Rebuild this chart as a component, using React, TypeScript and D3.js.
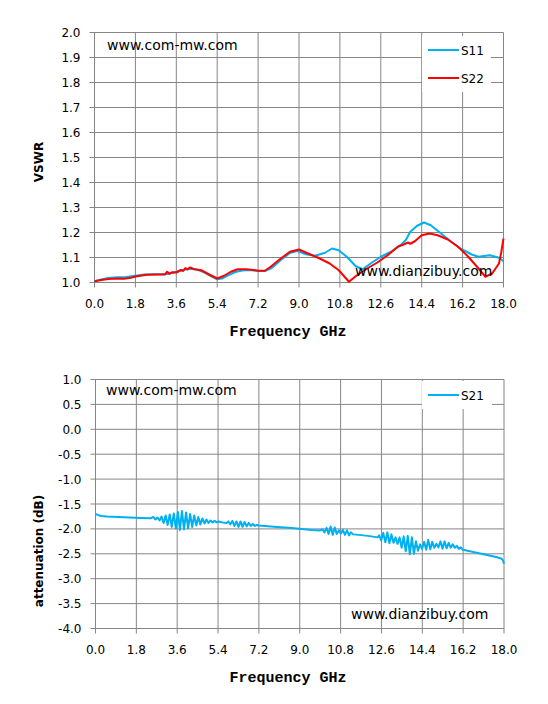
import React from 'react';
import * as d3 from 'd3';

// x axis ticks (GHz), shared by both charts
const freqTicks = [0, 1.8, 3.6, 5.4, 7.2, 9.0, 10.8, 12.6, 14.4, 16.2, 18.0];
const vswrTicks = [1.0, 1.1, 1.2, 1.3, 1.4, 1.5, 1.6, 1.7, 1.8, 1.9, 2.0];
const attTicks = [1.0, 0.5, 0.0, -0.5, -1.0, -1.5, -2.0, -2.5, -3.0, -3.5, -4.0];

// [GHz, VSWR]
const s11: [number, number][] = [
  [0.0, 1.005], [0.3, 1.012], [0.6, 1.018], [1.0, 1.021], [1.4, 1.022], [1.8, 1.027],
  [2.2, 1.032], [2.6, 1.033], [3.0, 1.033], [3.3, 1.035], [3.6, 1.043], [3.9, 1.05],
  [4.2, 1.055], [4.5, 1.052], [4.8, 1.042], [5.1, 1.027], [5.4, 1.013], [5.6, 1.016],
  [5.9, 1.03], [6.2, 1.042], [6.5, 1.048], [6.8, 1.05], [7.2, 1.046], [7.5, 1.046],
  [7.8, 1.058], [8.2, 1.09], [8.6, 1.118], [8.9, 1.126], [9.0, 1.124], [9.3, 1.113],
  [9.7, 1.107], [10.15, 1.119], [10.45, 1.136], [10.75, 1.129], [11.1, 1.103], [11.5, 1.065],
  [11.8, 1.053], [12.15, 1.076], [12.6, 1.103], [13.05, 1.123], [13.5, 1.152], [13.7, 1.17],
  [13.9, 1.203], [14.2, 1.227], [14.5, 1.24], [14.8, 1.229], [15.25, 1.196], [15.7, 1.163],
  [16.1, 1.136], [16.6, 1.112], [16.9, 1.103], [17.4, 1.109], [17.8, 1.099], [18.0, 1.085],
];

const s22: [number, number][] = [
  [0.0, 1.005], [0.3, 1.01], [0.6, 1.014], [1.0, 1.016], [1.3, 1.015], [1.6, 1.019],
  [1.8, 1.024], [2.3, 1.031], [2.8, 1.032], [3.1, 1.032], [3.2, 1.043], [3.3, 1.035],
  [3.4, 1.041], [3.6, 1.04], [3.8, 1.05], [3.9, 1.046], [4.0, 1.058], [4.1, 1.052],
  [4.2, 1.06], [4.4, 1.053], [4.7, 1.049], [5.05, 1.032], [5.4, 1.016], [5.7, 1.027],
  [6.0, 1.043], [6.3, 1.053], [6.7, 1.053], [7.0, 1.05], [7.2, 1.047], [7.5, 1.047],
  [7.75, 1.063], [8.2, 1.096], [8.6, 1.123], [9.0, 1.132], [9.4, 1.116], [9.85, 1.099],
  [10.35, 1.076], [10.75, 1.049], [11.2, 1.003], [11.55, 1.029], [12.0, 1.056], [12.45, 1.08],
  [12.9, 1.109], [13.35, 1.143], [13.6, 1.152], [13.8, 1.16], [13.9, 1.155], [14.1, 1.165],
  [14.4, 1.189], [14.75, 1.196], [15.1, 1.189], [15.55, 1.172], [16.0, 1.143], [16.45, 1.103],
  [16.9, 1.056], [17.2, 1.023], [17.5, 1.036], [17.8, 1.076], [17.9, 1.12], [18.0, 1.176],
];

// [GHz, dB]
const s21: [number, number][] = [
  [0.0, -1.70], [0.1, -1.72], [0.25, -1.74], [0.5, -1.75], [1.0, -1.76], [1.5, -1.77],
  [2.0, -1.78], [2.45, -1.785],
  [2.55, -1.76], [2.64, -1.81], [2.73, -1.77], [2.82, -1.83], [2.91, -1.75], [3.00, -1.88],
  [3.09, -1.73], [3.18, -1.92], [3.27, -1.71], [3.36, -1.96], [3.45, -1.69], [3.54, -1.99],
  [3.63, -1.66], [3.72, -2.02], [3.81, -1.64], [3.90, -2.01], [3.99, -1.67], [4.08, -1.99],
  [4.17, -1.70], [4.26, -1.96], [4.35, -1.73], [4.44, -1.93], [4.53, -1.76], [4.62, -1.91],
  [4.71, -1.79], [4.80, -1.89], [4.89, -1.81], [4.98, -1.88], [5.07, -1.83], [5.16, -1.87],
  [5.25, -1.84], [5.34, -1.87], [5.42, -1.85],
  [5.6, -1.87], [5.78, -1.88],
  [5.85, -1.85], [5.94, -1.91], [6.03, -1.84], [6.12, -1.94], [6.21, -1.85], [6.30, -1.96],
  [6.39, -1.85], [6.48, -1.96], [6.57, -1.86], [6.66, -1.95], [6.75, -1.88], [6.84, -1.94],
  [6.93, -1.90], [7.02, -1.94], [7.11, -1.92],
  [7.2, -1.93], [7.6, -1.945], [8.0, -1.96], [8.5, -1.975], [9.0, -1.995], [9.5, -2.02],
  [9.9, -2.03],
  [10.00, -2.01], [10.09, -2.07], [10.18, -1.98], [10.27, -2.10], [10.36, -1.95], [10.45, -2.12],
  [10.54, -1.97], [10.63, -2.10], [10.72, -2.03], [10.81, -2.09], [10.90, -2.02], [10.99, -2.12],
  [11.08, -2.03], [11.17, -2.13], [11.26, -2.07], [11.35, -2.11],
  [11.6, -2.12], [12.0, -2.14], [12.3, -2.16], [12.43, -2.17],
  [12.50, -2.13], [12.59, -2.23], [12.68, -2.08], [12.77, -2.27], [12.86, -2.07], [12.95, -2.29],
  [13.04, -2.11], [13.13, -2.28], [13.22, -2.17], [13.31, -2.30],
  [13.40, -2.17], [13.49, -2.38], [13.58, -2.15], [13.67, -2.45], [13.76, -2.14], [13.85, -2.51],
  [13.94, -2.17], [14.03, -2.50], [14.12, -2.25], [14.21, -2.44], [14.30, -2.31], [14.39, -2.40],
  [14.48, -2.26], [14.57, -2.42], [14.66, -2.22], [14.75, -2.41], [14.84, -2.26], [14.93, -2.38],
  [15.02, -2.30], [15.11, -2.37], [15.20, -2.25], [15.29, -2.40], [15.38, -2.25], [15.47, -2.39],
  [15.56, -2.28], [15.65, -2.38], [15.74, -2.31], [15.83, -2.38], [15.92, -2.34], [16.01, -2.40],
  [16.10, -2.37], [16.19, -2.42],
  [16.5, -2.45], [16.8, -2.48], [17.1, -2.51], [17.4, -2.54], [17.7, -2.57], [17.9, -2.60],
  [17.96, -2.64], [18.0, -2.70],
];

const BLUE = '#00B0F0';
const RED = '#FF0000';
const GRID = '#868686';
const SANS = 'DejaVu Sans, Verdana, sans-serif';

interface Series {
  name: string;
  color: string;
  data: [number, number][];
}

interface ChartProps {
  left: number;
  right: number;
  top: number;
  bottom: number;
  yDomain: [number, number];
  yTicks: number[];
  yTitle: string;
  yTitleY: number;
  series: Series[];
  legendBox: { x: number; y: number; w: number; h: number };
  mark1: { x: number; y: number };
  mark2: { x: number; y: number };
}

const Chart: React.FC<ChartProps> = (p) => {
  const x = d3.scaleLinear().domain([0, 18]).range([p.left, p.right]);
  const y = d3.scaleLinear().domain(p.yDomain).range([p.bottom, p.top]);
  const line = d3
    .line<[number, number]>()
    .x((d) => x(d[0]))
    .y((d) => y(d[1]));

  return (
    <g>
      {/* grid */}
      {p.yTicks.map((t) => (
        <line key={'gy' + t} x1={p.left - 5} x2={p.right} y1={y(t)} y2={y(t)} stroke={GRID} strokeWidth={1} />
      ))}
      {freqTicks.map((t) => (
        <line key={'gx' + t} x1={x(t)} x2={x(t)} y1={p.top} y2={p.bottom + 5} stroke={GRID} strokeWidth={1} />
      ))}

      {/* tick labels */}
      {p.yTicks.map((t) => (
        <text key={'ly' + t} x={p.left - 14} y={y(t) + 4.5} textAnchor="end" fontFamily={SANS} fontSize={12} fill="#000">
          {t.toFixed(1)}
        </text>
      ))}
      {freqTicks.map((t) => (
        <text key={'lx' + t} x={x(t)} y={p.bottom + 25} textAnchor="middle" fontFamily={SANS} fontSize={12} fill="#000">
          {t.toFixed(1)}
        </text>
      ))}

      {/* axis titles */}
      <text
        x={288}
        y={p.bottom + 53}
        textAnchor="middle"
        fontFamily="Liberation Mono, monospace"
        fontWeight="bold"
        fontSize={15}
        fill="#000"
      >
        Frequency GHz
      </text>
      <text
        transform={`translate(43, ${p.yTitleY}) rotate(-90)`}
        textAnchor="middle"
        fontFamily={SANS}
        fontWeight="bold"
        fontSize={12}
        fill="#000"
      >
        {p.yTitle}
      </text>

      {/* watermarks */}
      <text x={p.mark1.x} y={p.mark1.y} fontFamily={SANS} fontSize={14} fill="#000">
        www.com-mw.com
      </text>

      {/* data */}
      {p.series.map((s) => (
        <path key={s.name} d={line(s.data) ?? ''} fill="none" stroke={s.color} strokeWidth={2} strokeLinejoin="round" />
      ))}

      <text x={p.mark2.x} y={p.mark2.y} fontFamily={SANS} fontSize={14} fill="#000">
        www.dianzibuy.com
      </text>

      {/* legend */}
      <rect x={p.legendBox.x} y={p.legendBox.y} width={p.legendBox.w} height={p.legendBox.h} fill="#fff" />
      {p.series.map((s, i) => {
        const ly = p.legendBox.y + 14 + i * 28;
        return (
          <g key={'lg' + s.name}>
            <line x1={p.legendBox.x + 6} x2={p.legendBox.x + 37} y1={ly} y2={ly} stroke={s.color} strokeWidth={2} />
            <text x={p.legendBox.x + 39} y={ly + 4.5} fontFamily={SANS} fontSize={12} fill="#000">
              {s.name}
            </text>
          </g>
        );
      })}
    </g>
  );
};

const App: React.FC = () => {
  return (
    <svg width={548} height={704} style={{ position: 'absolute', left: 0, top: 0, background: '#fff' }}>
      <Chart
        left={94.5}
        right={503.5}
        top={32.5}
        bottom={282.5}
        yDomain={[1, 2]}
        yTicks={vswrTicks}
        yTitle="VSWR"
        yTitleY={162}
        series={[
          { name: 'S11', color: BLUE, data: s11 },
          { name: 'S22', color: RED, data: s22 },
        ]}
        legendBox={{ x: 422, y: 36, w: 69, h: 56 }}
        mark1={{ x: 107, y: 50 }}
        mark2={{ x: 355, y: 276 }}
      />
      <Chart
        left={95.5}
        right={504}
        top={379.5}
        bottom={628.5}
        yDomain={[-4, 1]}
        yTicks={attTicks}
        yTitle="attenuation (dB)"
        yTitleY={551}
        series={[{ name: 'S21', color: BLUE, data: s21 }]}
        legendBox={{ x: 422, y: 381, w: 70, h: 28 }}
        mark1={{ x: 106, y: 395 }}
        mark2={{ x: 351, y: 619 }}
      />
    </svg>
  );
};

export default App;
